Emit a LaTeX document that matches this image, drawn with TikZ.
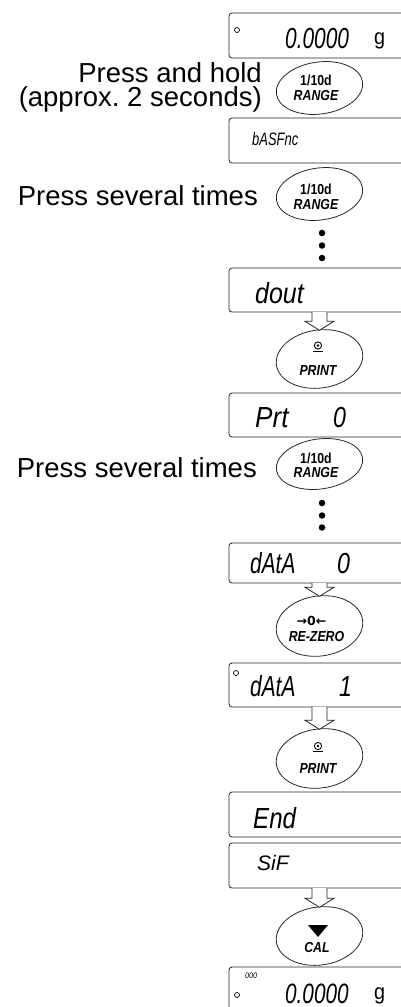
\documentclass[tikz,border=0pt]{standalone}
\usepackage{fontspec}
\usepackage{graphicx}
\setmainfont{Liberation Sans}
\newfontfamily\segf{Liberation Sans}
\newfontfamily\symf{DejaVu Sans}
\usetikzlibrary{calc,shapes.geometric}
\frenchspacing
\newcommand\segtxt[3]{\fontsize{#1}{#1}\selectfont\scalebox{#2}[1]{#3}}
\newcommand\hollowarr[2]{%
  \draw[holarr] let \p1=(#1.south), \p2=(#2.center |- #2.north) in
    (\x2-7.5pt,\y1) -- (\x2-7.5pt,\y2+9pt) -- (\x2-14.5pt,\y2+9pt) -- (\x2,\y2)
    -- (\x2+14.5pt,\y2+9pt) -- (\x2+7.5pt,\y2+9pt) -- (\x2+7.5pt,\y1);}
\tikzset{
  disp/.style={draw=black!85, line width=0.8pt, rounded corners=3pt, minimum width=200pt,
    anchor=north west, inner sep=0pt, outer sep=0pt},
  btn/.style={draw=black!85, line width=0.8pt, ellipse, minimum width=87pt, inner sep=0pt,
    outer sep=0pt, fill=white, rotate=8},
  lbl/.style={font=\fontsize{27.5}{24}\selectfont, anchor=base east, inner sep=0pt},
  seg/.style={font=\segf\itshape, anchor=base west, inner sep=0pt},
  segup/.style={font=\segf, anchor=base west, inner sep=0pt},
  keyf/.style={font=\bfseries\fontsize{14.5}{14.5}\selectfont, anchor=base, inner sep=0pt},
  keyi/.style={font=\bfseries\itshape\fontsize{14.5}{14.5}\selectfont, anchor=base, inner sep=0pt},
  vdot/.style={circle, fill=black, minimum size=6.5pt, inner sep=0pt},
  ringdot/.style={circle, draw=black, line width=0.7pt, minimum size=5pt, inner sep=0pt},
  holarr/.style={draw=black!85, line width=0.8pt, fill=white, line join=miter},
}
\begin{document}
\begin{tikzpicture}[x=1pt,y=-1pt]
\path[use as bounding box] (0,0) rectangle (401,1007);
\clip (0,0) rectangle (401,1007);

% displays
\node[disp, minimum height=45pt] (d1) at (229,13) {};
\node[disp, minimum height=45pt] (d2) at (229,118) {};
\node[disp, minimum height=44pt] (d3) at (229,268) {};
\node[disp, minimum height=44pt] (d4) at (229,393) {};
\node[disp, minimum height=40pt] (d5) at (229,543) {};
\node[disp, minimum height=44pt] (d6) at (229,663) {};
\node[disp, minimum height=45pt] (d7) at (229,792) {};
\node[disp, minimum height=45pt] (d8) at (229,843) {};
\node[disp, minimum height=50pt] (d9) at (229,967) {};

% display contents
\node[ringdot] (o1) at (237,30) {};
\node[seg] (t1) at (285,48) {\segtxt{29}{0.72}{0.0000}};
\node[segup] (g1) at (374,44) {\segtxt{22}{0.9}{g}};
\node[seg] (t2) at (252,145) {\segtxt{18}{0.72}{bASFnc}};
\node[seg] (t3) at (255,303) {\segtxt{29}{0.86}{dout}};
\node[seg] (t4) at (255,427) {\segtxt{29}{0.9}{Prt}};
\node[seg] (t4b) at (333,427) {\segtxt{29}{0.8}{0}};
\node[seg] (t5) at (250,573) {\segtxt{29}{0.72}{dAtA}};
\node[seg] (t5b) at (337,573) {\segtxt{29}{0.8}{0}};
\node[ringdot] (o6) at (236,673) {};
\node[seg] (t6) at (250,696) {\segtxt{29}{0.72}{dAtA}};
\node[seg] (t6b) at (339,696) {\segtxt{29}{0.8}{1}};
\node[seg] (t7) at (253,828) {\segtxt{29}{0.83}{End}};
\node[seg] (t8) at (257,870) {\segtxt{21}{1.0}{SiF}};
\node[ringdot] (o9) at (237,995) {};
\node[seg] (t9s) at (245,978) {\segtxt{8}{0.9}{000}};
\node[seg] (t9) at (285,1003) {\segtxt{28}{0.74}{0.0000}};
\node[segup] (g9) at (374,999) {\segtxt{22}{0.9}{g}};

% buttons
\node[btn, minimum height=52pt] (b1) at (319.5,88) {};
\node[btn, minimum height=52pt] (b2) at (319.5,194) {};
\node[btn, minimum height=58pt] (b3) at (319.5,359) {};
\node[btn, minimum height=50pt] (b4) at (319.5,464) {};
\node[btn, minimum height=60pt] (b5) at (319.5,626) {};
\node[btn, minimum height=59pt] (b6) at (319.5,758.5) {};
\node[btn, minimum height=58pt] (b7) at (319.5,936) {};

% button labels
\node[keyf] (k1a) at (316,85.5) {\scalebox{0.85}[1]{1/10d}};
\node[keyi] (k1b) at (316,100) {\scalebox{0.85}[1]{RANGE}};
\node[keyf] (k2a) at (316,194.5) {\scalebox{0.85}[1]{1/10d}};
\node[keyi] (k2b) at (316,209) {\scalebox{0.85}[1]{RANGE}};
\node[keyf] (k4a) at (316,463) {\scalebox{0.85}[1]{1/10d}};
\node[keyi] (k4b) at (316,477.5) {\scalebox{0.85}[1]{RANGE}};
\node[keyi] (k3) at (318,375) {\scalebox{0.85}[1]{PRINT}};
\node[keyi] (k6) at (318,773) {\scalebox{0.85}[1]{PRINT}};
\node[keyi] (k5) at (316.5,641) {\scalebox{0.85}[1]{RE-ZERO}};
\node[font=\symf\bfseries\fontsize{12.5}{12.5}\selectfont, inner sep=0pt] (k5a) at (311.5,621) {→0←};
\node[keyi] (k7) at (317,952) {\scalebox{0.85}[1]{CAL}};
% print icons
\draw[line width=0.9pt] (318,345.5) circle (3.6pt);
\fill (318,345.5) circle (1.3pt);
\draw[line width=1pt] (313,351) -- (323,351);
\draw[line width=0.9pt] (318,746) circle (3.6pt);
\fill (318,746) circle (1.3pt);
\draw[line width=1pt] (313,751.5) -- (323,751.5);
% cal triangle
\fill (308,925) -- (328,925) -- (318,937) -- cycle;

% dots
\node[vdot] (v1) at (322,233) {};
\node[vdot] (v2) at (322,245.5) {};
\node[vdot] (v3) at (322,258) {};
\node[vdot] (v4) at (322,503) {};
\node[vdot] (v5) at (322,515.5) {};
\node[vdot] (v6) at (322,527.5) {};

% hollow arrows
\hollowarr{d3}{b3}
\hollowarr{d5}{b5}
\hollowarr{d6}{b6}
\hollowarr{d8}{b7}

% instructions
\node[lbl] (l1) at (262,82) {Press and hold};
\node[lbl] (l1b) at (262,106) {(approx. 2 seconds)};
\node[lbl] (l2) at (258,205) {Press several times};
\node[lbl] (l3) at (257,477) {Press several times};
\end{tikzpicture}
\end{document}
